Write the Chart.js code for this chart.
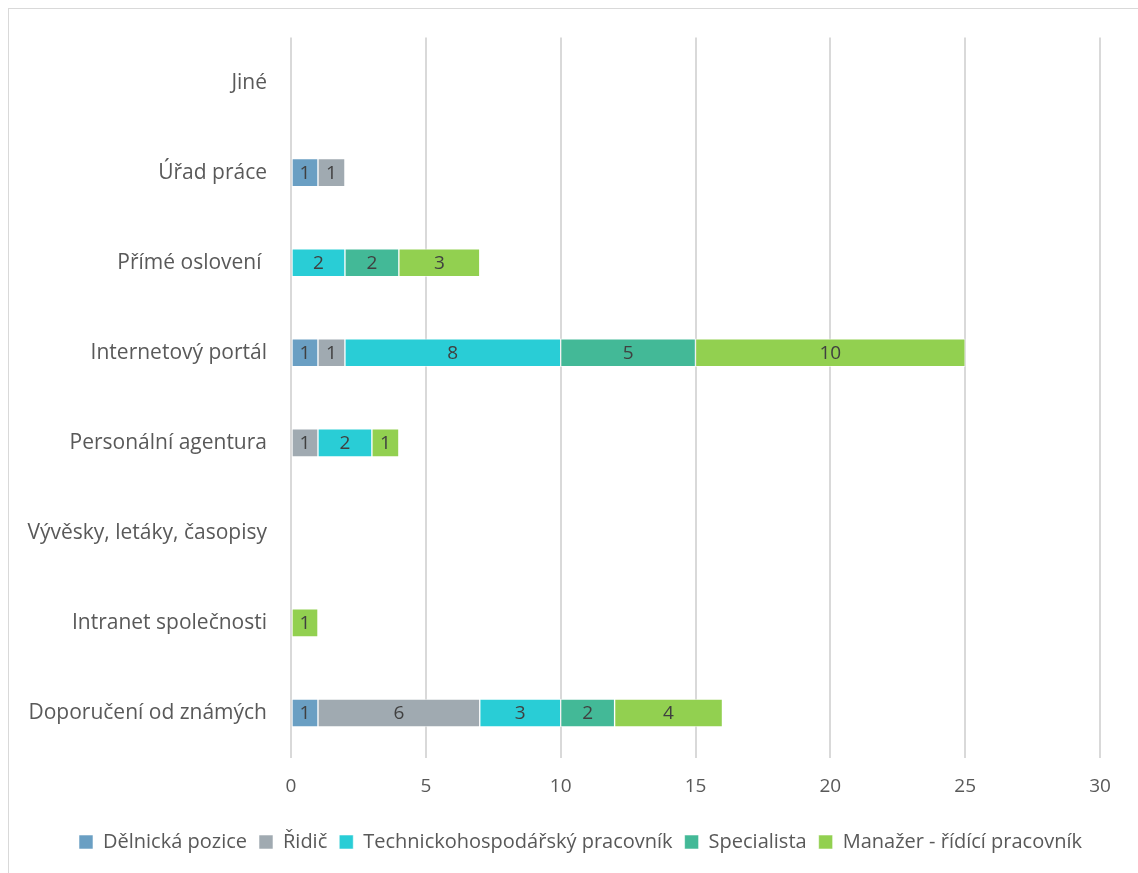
<!DOCTYPE html>
<html lang="cs">
<head>
<meta charset="utf-8">
<title>Zdroj informací o pracovní pozici</title>
<script src="https://cdn.jsdelivr.net/npm/chart.js@4/dist/chart.umd.min.js"></script>
<style>
  html, body { margin:0; padding:0; background:#fff; overflow:hidden; }
  .frame {
    position:absolute; left:8px; top:8px;
    width:1140px; height:880px;
    border:1px solid #d9d9d9; box-sizing:border-box;
  }
  .wrap { position:absolute; left:9px; top:9px; width:1129px; height:864px; }
</style>
</head>
<body>
<div class="frame"></div>
<div class="wrap"><canvas id="chart"></canvas></div>
<script>
// categories, top to bottom
const categories = [
  'Jiné',
  'Úřad práce',
  'Přímé oslovení ',
  'Internetový portál',
  'Personální agentura',
  'Vývěsky, letáky, časopisy',
  'Intranet společnosti',
  'Doporučení od známých'
];

// counts per position type
const delnicka     = [0, 1, 0, 1, 0, 0, 0, 1];
const ridic        = [0, 1, 0, 1, 1, 0, 0, 6];
const technicko    = [0, 0, 2, 8, 2, 0, 0, 3];
const specialista  = [0, 0, 2, 5, 0, 0, 0, 2];
const manazer      = [0, 0, 3, 10, 1, 0, 1, 4];

const xTicks = [0, 5, 10, 15, 20, 25, 30];

const FONT = '"Open Sans", "DejaVu Sans", sans-serif';
const TEXT = '#595959';

function series(label, data, color) {
  return {
    label, data,
    backgroundColor: color,
    borderColor: 'rgba(255,255,255,0.55)',
    borderWidth: 1,
    borderSkipped: false,
    barThickness: 28
  };
}

// writes the value in the middle of every non-empty segment
const segmentLabels = {
  id: 'segmentLabels',
  afterDatasetsDraw(chart) {
    const ctx = chart.ctx;
    ctx.save();
    ctx.font = '19px ' + FONT;
    ctx.fillStyle = '#404040';
    ctx.textAlign = 'center';
    ctx.textBaseline = 'middle';
    chart.data.datasets.forEach((ds, i) => {
      const meta = chart.getDatasetMeta(i);
      meta.data.forEach((bar, j) => {
        const v = ds.data[j];
        if (!v) return;
        const cx = (bar.x + bar.base) / 2;
        ctx.fillText(String(v), cx, bar.y + 1);
      });
    });
    ctx.restore();
  }
};

new Chart(document.getElementById('chart'), {
  type: 'bar',
  data: {
    labels: categories,
    datasets: [
      series('Dělnická pozice', delnicka, '#6a9fc3'),
      series('Řidič', ridic, '#a0aab1'),
      series('Technickohospodářský pracovník', technicko, '#29cdd6'),
      series('Specialista', specialista, '#43b997'),
      series('Manažer - řídící pracovník', manazer, '#92d050')
    ]
  },
  options: {
    indexAxis: 'y',
    responsive: true,
    maintainAspectRatio: false,
    animation: false,
    layout: { padding: { top: 18, right: 0, bottom: 11, left: 14 } },
    plugins: {
      legend: {
        position: 'bottom',
        labels: {
          font: { family: FONT, size: 20 },
          color: TEXT,
          boxWidth: 14,
          boxHeight: 14,
          padding: 12
        }
      },
      tooltip: { enabled: false }
    },
    scales: {
      x: {
        stacked: true,
        min: 0, max: 30,
        afterBuildTicks: s => { s.ticks = xTicks.map(v => ({ value: v })); },
        grid: { color: '#d9d9d9', lineWidth: 2, drawTicks: false },
        border: { display: false },
        ticks: { font: { family: FONT, size: 19 }, color: TEXT, padding: 17 },
        afterFit: s => { s.height = 62; }
      },
      y: {
        stacked: true,
        grid: { display: false },
        border: { display: false },
        ticks: { font: { family: FONT, size: 21 }, color: TEXT, padding: 16 },
        afterFit: s => { s.width = 268; }
      },
      // empty margin on the right of the plot
      gap: {
        type: 'linear',
        position: 'right',
        grid: { display: false },
        border: { display: false },
        ticks: { display: false },
        afterFit: s => { s.width = 38; }
      }
    }
  },
  plugins: [segmentLabels]
});
</script>
</body>
</html>
